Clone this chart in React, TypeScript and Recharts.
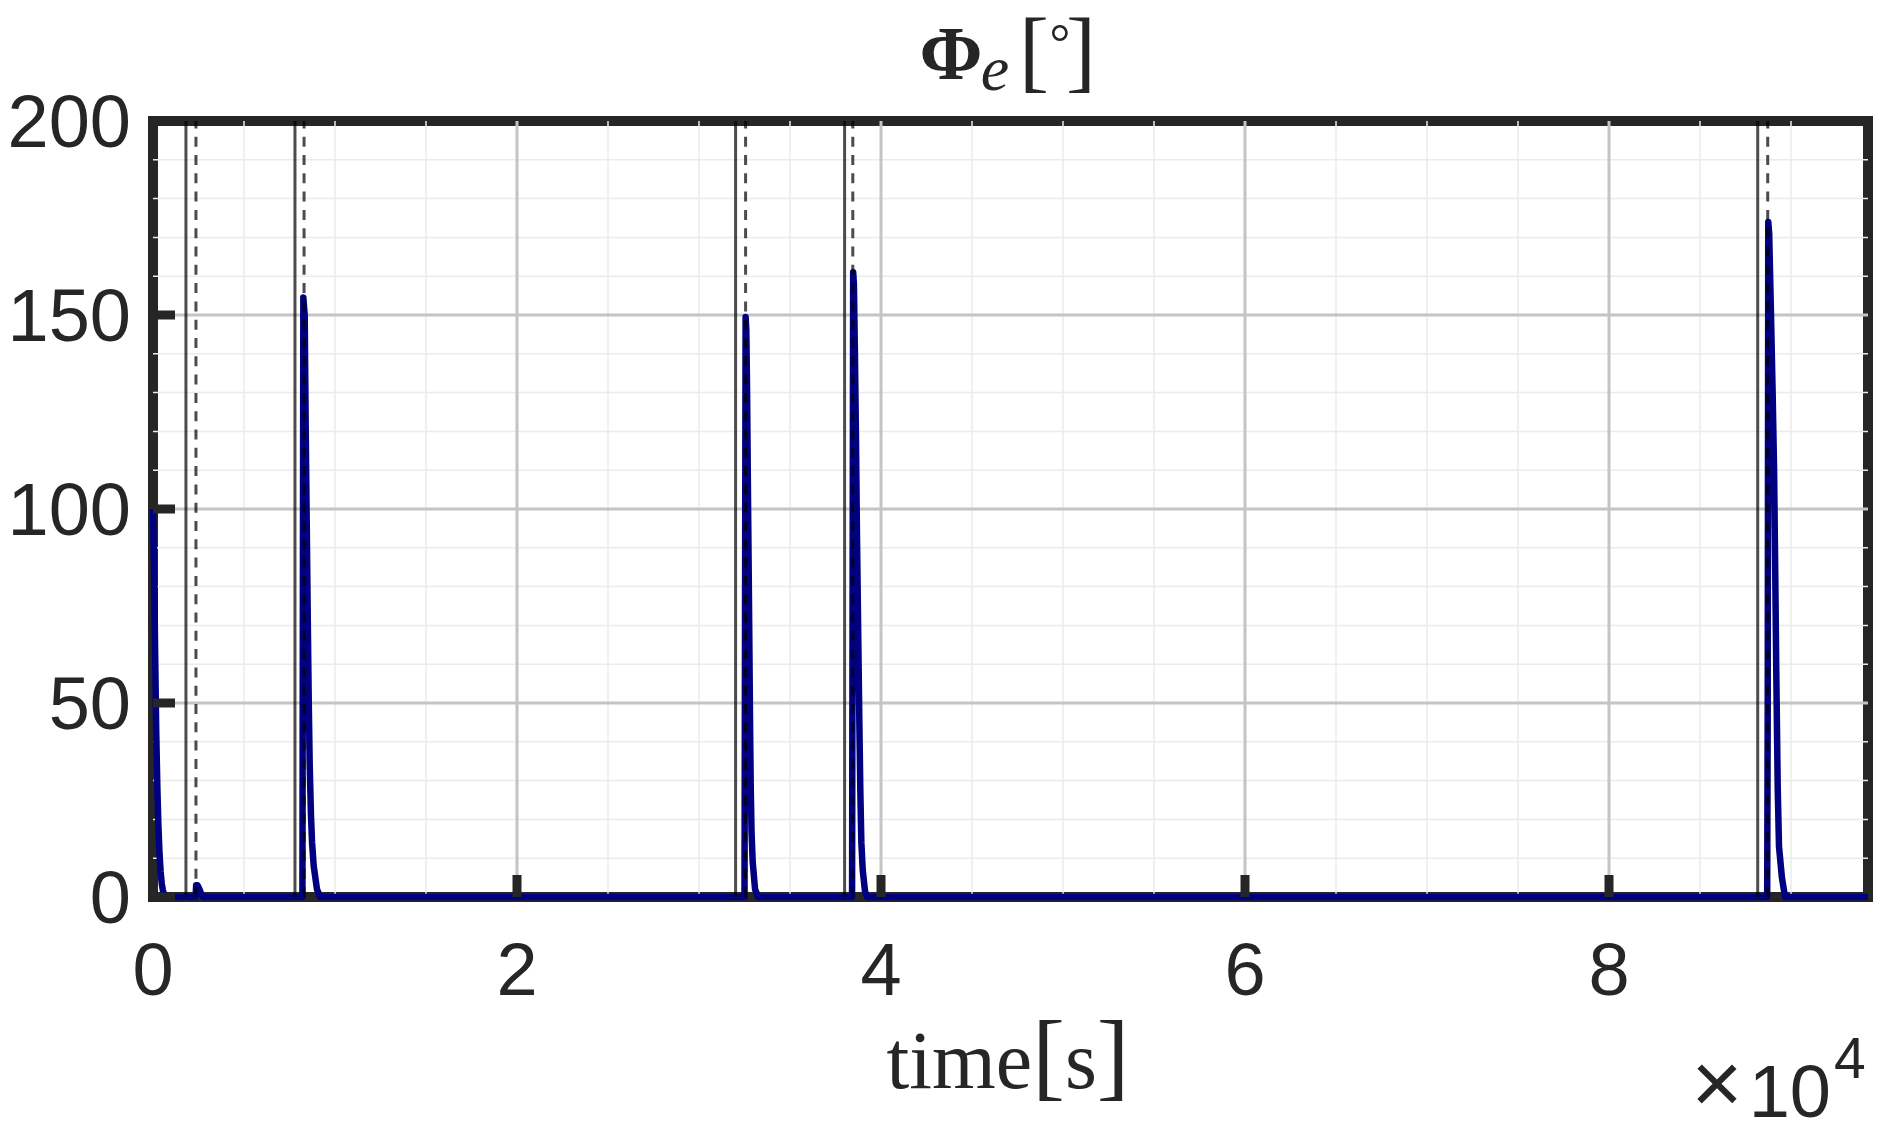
import React from 'react';
import { LineChart, Line, XAxis, YAxis, ReferenceLine, ReferenceArea } from 'recharts';

// Phi_e [deg] vs time [s]: [t, value]
const decay0: [number, number][] = [
  [0, 100], [60, 84], [120, 62], [180, 42], [240, 28], [300, 18], [360, 11],
  [420, 6.5], [480, 3.5], [540, 1.8], [600, 0.8], [660, 0.3], [720, 0],
];
const bump1: [number, number][] = [
  [2340, 0], [2370, 3], [2450, 3], [2550, 2], [2650, 0.8], [2750, 0],
];
const spike2: [number, number][] = [
  [8210, 0], [8260, 154.5], [8335, 150], [8390, 121], [8445, 97], [8500, 73], [8555, 51],
  [8610, 34], [8680, 21], [8740, 14], [8830, 8], [9010, 2], [9180, 0],
];
const spike3: [number, number][] = [
  [32500, 0], [32560, 149.5], [32600, 146], [32640, 131], [32690, 104], [32750, 74], [32800, 47],
  [32840, 29], [32885, 17], [32950, 9], [33080, 2], [33240, 0],
];
const spike4: [number, number][] = [
  [38410, 0], [38470, 161], [38510, 158], [38570, 139], [38625, 118], [38680, 93], [38750, 67],
  [38810, 45], [38865, 27], [38920, 14], [38995, 7], [39120, 1.5], [39230, 0],
];
const spike5: [number, number][] = [
  [88690, 0], [88720, 49], [88750, 174], [88800, 171], [88900, 150], [88990, 130], [89070, 110],
  [89130, 85], [89190, 58], [89270, 28], [89340, 13], [89500, 5], [89670, 0],
];
const tail: [number, number][] = [[94230, 0]];

// event markers (solid = start, dashed = end)
const solidMarks = [1810, 7800, 32010, 38000, 88170];
const dashedMarks = [2360, 8300, 32560, 38450, 88720];

const xTicks = [0, 20000, 40000, 60000, 80000];
const xTickLabels = ['0', '2', '4', '6', '8'];
const yTicks = [0, 50, 100, 150, 200];
const yTickLabels = ['0', '50', '100', '150', '200'];
const xMinorGrid = [5000, 10000, 15000, 25000, 30000, 35000, 45000, 50000, 55000, 65000, 70000, 75000, 85000, 90000];
const yMinorGrid = [10, 20, 30, 40, 60, 70, 80, 90, 110, 120, 130, 140, 160, 170, 180, 190];
const xMajorGrid = [20000, 40000, 60000, 80000];
const yMajorGrid = [50, 100, 150];

const T_MAX = 94230;
const INK = '#262626';
const SANS = '"Liberation Sans", Arial, Helvetica, sans-serif';
const SERIF = '"Liberation Serif", "Times New Roman", serif';
const TICK_LEN = 22;

const data = [...decay0, ...bump1, ...spike2, ...spike3, ...spike4, ...spike5, ...tail].map(([t, v]) => ({ t, v }));

const BottomTick = (props: any) => {
  const { x, y, index } = props;
  return (
    <g>
      <line x1={x} x2={x} y1={y} y2={y - TICK_LEN} stroke={INK} strokeWidth={9} />
      <text x={x} y={y + 98} textAnchor="middle" fill={INK} fontSize={74} fontFamily={SANS}>
        {xTickLabels[index]}
      </text>
    </g>
  );
};

const TopTick = (props: any) => {
  const { x, y } = props;
  return <line x1={x} x2={x} y1={y} y2={y + TICK_LEN} stroke={INK} strokeWidth={9} />;
};

const LeftTick = (props: any) => {
  const { x, y, index } = props;
  return (
    <g>
      <line x1={x} x2={x + TICK_LEN} y1={y} y2={y} stroke={INK} strokeWidth={9} />
      <text x={x - 22} y={y + 26} textAnchor="end" fill={INK} fontSize={74} fontFamily={SANS}>
        {yTickLabels[index]}
      </text>
    </g>
  );
};

const RightTick = (props: any) => {
  const { x, y } = props;
  return <line x1={x - TICK_LEN} x2={x} y1={y} y2={y} stroke={INK} strokeWidth={9} />;
};

const TitleText = () => (
  <g fill={INK} fontFamily={SERIF}>
    <text x={951} y={79} fontSize={76} fontWeight="bold" textAnchor="middle">Φ</text>
    <text x={995} y={90} fontSize={64} fontStyle="italic" textAnchor="middle">e</text>
    <text x={1034} y={81} fontSize={90} textAnchor="middle">[</text>
    <text x={1060} y={60} fontSize={52} textAnchor="middle">°</text>
    <text x={1081} y={81} fontSize={90} textAnchor="middle">]</text>
  </g>
);

const XLabelText = () => (
  <g fill={INK}>
    <text x={1008} y={1088} textAnchor="middle" fontFamily={SERIF} fontSize={82}>
      time<tspan fontSize={98}>[</tspan>s<tspan fontSize={98}>]</tspan>
    </text>
    <text x={1717} y={1113} textAnchor="middle" fontFamily={SANS} fontSize={88}>×</text>
    <text x={1831} y={1117} textAnchor="end" fontFamily={SANS} fontSize={74}>10</text>
    <text x={1834} y={1078} fontFamily={SANS} fontSize={57}>4</text>
  </g>
);

export default function App() {
  return (
    <div style={{ position: 'absolute', left: 0, top: 0, background: '#fff' }}>
      <LineChart width={1893} height={1133} data={data} margin={{ top: 0, right: 0, bottom: 0, left: 0 }}>
        {xMinorGrid.map((v) => (
          <ReferenceLine key={'xm' + v} x={v} stroke="#ebebeb" strokeWidth={1.5} />
        ))}
        {yMinorGrid.map((v) => (
          <ReferenceLine key={'ym' + v} y={v} stroke="#ebebeb" strokeWidth={1.5} />
        ))}
        {xMajorGrid.map((v) => (
          <ReferenceLine key={'xM' + v} x={v} stroke="#c4c4c4" strokeWidth={3} />
        ))}
        {yMajorGrid.map((v) => (
          <ReferenceLine key={'yM' + v} y={v} stroke="#c4c4c4" strokeWidth={3} />
        ))}
        <ReferenceArea x1={0} x2={T_MAX} y1={0} y2={200} fill="none" stroke={INK} strokeWidth={10} />
        <XAxis
          dataKey="t"
          type="number"
          domain={[0, T_MAX]}
          ticks={xTicks}
          interval={0}
          height={236}
          tickSize={0}
          tickMargin={0}
          tickLine={false}
          axisLine={false}
          tick={<BottomTick />}
          label={<XLabelText />}
        />
        <XAxis
          xAxisId="top"
          orientation="top"
          type="number"
          domain={[0, T_MAX]}
          ticks={xTicks}
          interval={0}
          height={121}
          tickSize={0}
          tickMargin={0}
          tickLine={false}
          axisLine={false}
          tick={<TopTick />}
          label={<TitleText />}
        />
        <YAxis
          type="number"
          domain={[0, 200]}
          ticks={yTicks}
          interval={0}
          width={153}
          tickSize={0}
          tickMargin={0}
          tickLine={false}
          axisLine={false}
          tick={<LeftTick />}
        />
        <YAxis
          yAxisId="right"
          orientation="right"
          type="number"
          domain={[0, 200]}
          ticks={yTicks}
          interval={0}
          width={25}
          tickSize={0}
          tickMargin={0}
          tickLine={false}
          axisLine={false}
          tick={<RightTick />}
        />
        <Line
          type="linear"
          dataKey="v"
          stroke="#000080"
          strokeWidth={6.5}
          dot={false}
          activeDot={false}
          strokeLinejoin="round"
          isAnimationActive={false}
        />
        {solidMarks.map((v) => (
          <ReferenceLine key={'s' + v} x={v} stroke="#000" strokeOpacity={0.7} strokeWidth={3} />
        ))}
        {dashedMarks.map((v) => (
          <ReferenceLine key={'d' + v} x={v} stroke="#000" strokeOpacity={0.7} strokeWidth={3} strokeDasharray="10 8.3" />
        ))}
      </LineChart>
    </div>
  );
}
